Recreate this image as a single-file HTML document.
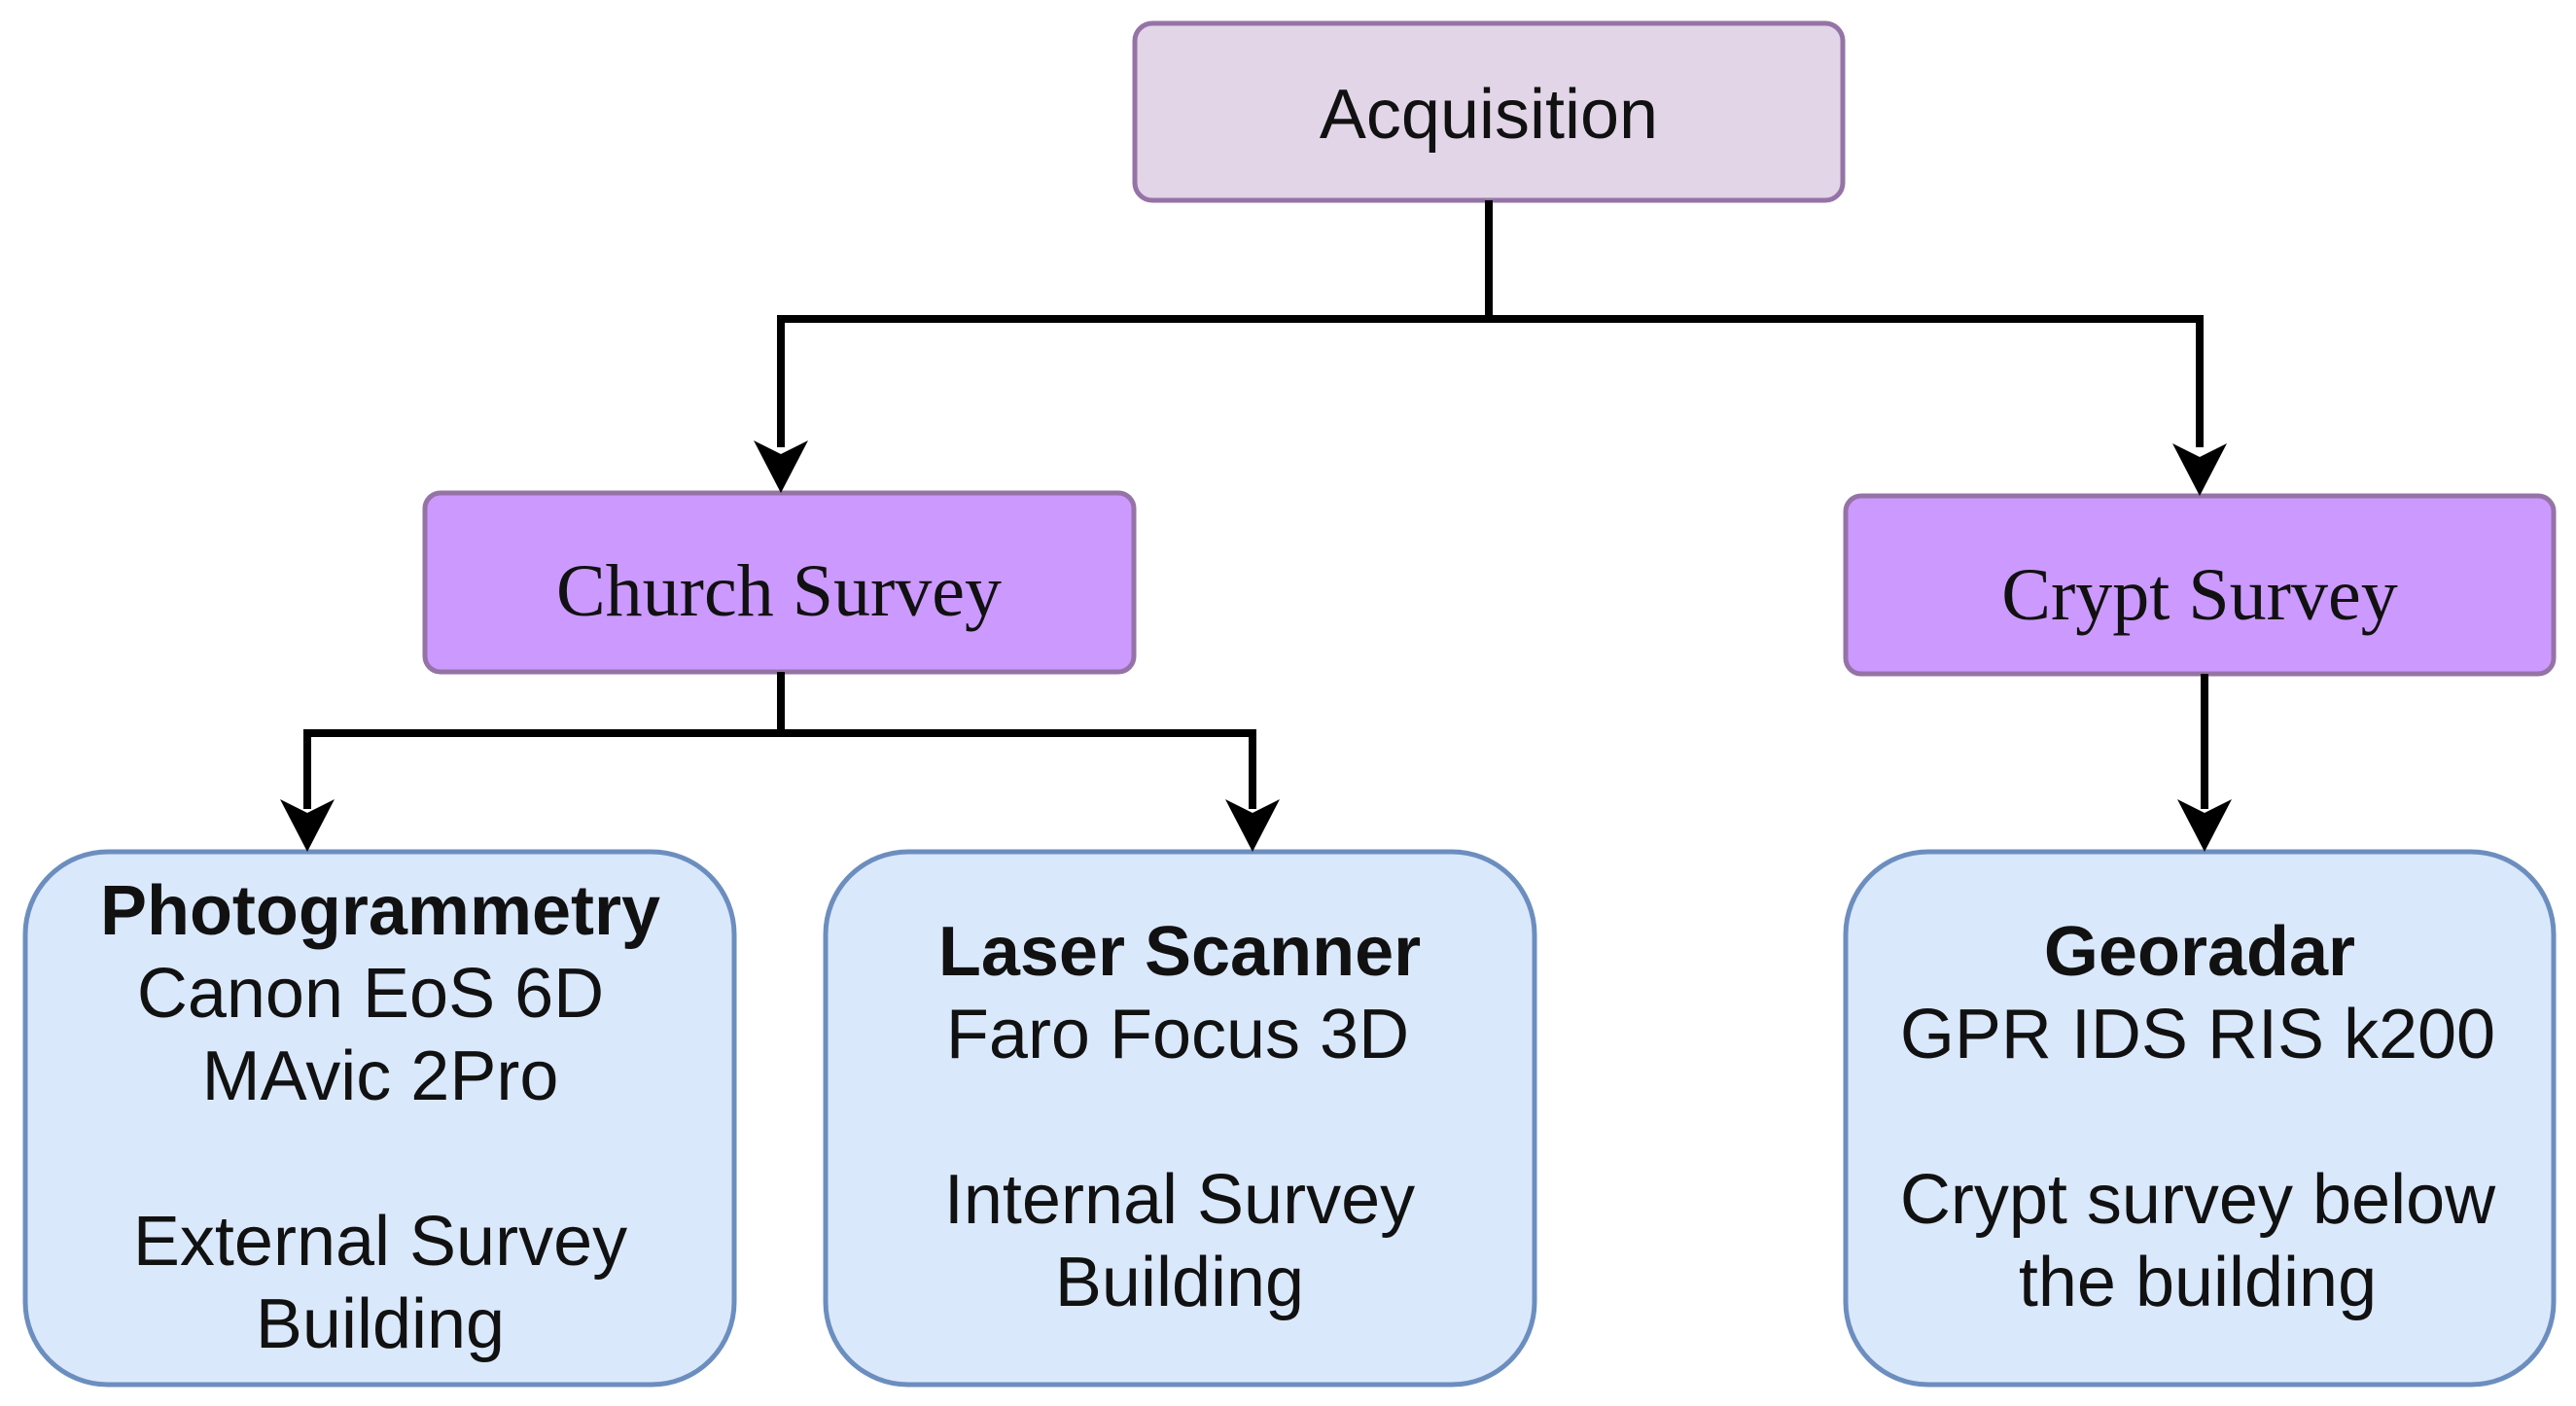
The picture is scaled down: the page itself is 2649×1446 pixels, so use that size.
<!DOCTYPE html>
<html><head><meta charset="utf-8"><style>
html,body{margin:0;padding:0;background:#fff;}
svg{display:block;}
.s{font-family:"Liberation Sans",sans-serif;font-size:72px;fill:#111;text-anchor:middle;}
.b{font-weight:bold;}
.r{font-family:"Liberation Serif",serif;font-size:76px;fill:#111;text-anchor:middle;}
</style></head><body>
<svg width="2649" height="1446" viewBox="0 0 2649 1446" xmlns="http://www.w3.org/2000/svg">
<defs>
<marker id="a" markerWidth="56" markerHeight="60" refX="28" refY="58" markerUnits="userSpaceOnUse" orient="auto" viewBox="0 0 56 60">
</marker>
</defs>
<!-- boxes -->
<rect x="1167" y="24" width="728" height="182" rx="18" fill="#e1d5e7" stroke="#9673a6" stroke-width="5"/>
<rect x="437" y="507" width="729" height="184" rx="16" fill="#cc99ff" stroke="#9673a6" stroke-width="5"/>
<rect x="1898" y="510" width="728" height="183" rx="16" fill="#cc99ff" stroke="#9673a6" stroke-width="5"/>
<rect x="26" y="876" width="729" height="548" rx="85" fill="#dae8fc" stroke="#6c8ebf" stroke-width="5"/>
<rect x="849" y="876" width="729" height="548" rx="85" fill="#dae8fc" stroke="#6c8ebf" stroke-width="5"/>
<rect x="1898" y="876" width="728" height="548" rx="85" fill="#dae8fc" stroke="#6c8ebf" stroke-width="5"/>
<!-- connectors -->
<g stroke="#000" stroke-width="8" fill="none">
<polyline points="1531,206 1531,328 803,328 803,460"/>
<polyline points="1531,328 2262,328 2262,460"/>
<polyline points="803,691 803,754 316,754 316,832"/>
<polyline points="803,754 1288,754 1288,832"/>
<polyline points="2267,693 2267,832"/>
</g>
<g fill="#000">
<polygon points="775,453 803,467 831,453 803,507"/>
<polygon points="2234,456 2262,470 2290,456 2262,510"/>
<polygon points="288,822 316,836 344,822 316,876"/>
<polygon points="1260,822 1288,836 1316,822 1288,876"/>
<polygon points="2239,822 2267,836 2295,822 2267,876"/>
</g>
<!-- text -->
<text class="s" x="1531" y="142">Acquisition</text>
<text class="r" x="801" y="633">Church Survey</text>
<text class="r" x="2262" y="637">Crypt Survey</text>

<text class="s b" x="391" y="961">Photogrammetry</text>
<text class="s" x="381" y="1046">Canon EoS 6D</text>
<text class="s" x="391" y="1131">MAvic 2Pro</text>
<text class="s" x="391" y="1301">External Survey</text>
<text class="s" x="391" y="1386">Building</text>

<text class="s b" x="1213" y="1003">Laser Scanner</text>
<text class="s" x="1211" y="1088">Faro Focus 3D</text>
<text class="s" x="1213" y="1258">Internal Survey</text>
<text class="s" x="1213" y="1343">Building</text>

<text class="s b" x="2262" y="1003">Georadar</text>
<text class="s" x="2260" y="1088">GPR IDS RIS k200</text>
<text class="s" x="2260" y="1258">Crypt survey below</text>
<text class="s" x="2260" y="1343">the building</text>
</svg>
</body></html>
